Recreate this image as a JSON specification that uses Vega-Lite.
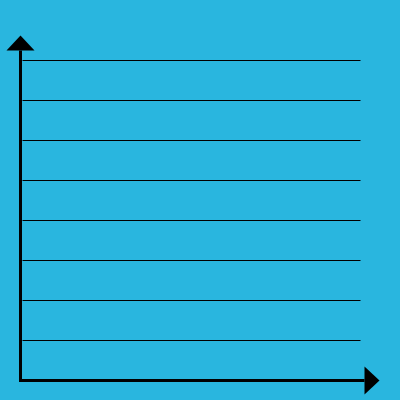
{
  "$schema": "https://vega.github.io/schema/vega-lite/v6.json",
  "autosize": {"type": "fit", "contains": "padding"},
  "width": 400,
  "height": 400,
  "padding": 0,
  "background": "#29B6DF",
  "config": {"view": {"stroke": null}},
  "datasets": {
    "grid": [
      {"level": 1, "start": 0.05, "end": 8.5},
      {"level": 2, "start": 0.05, "end": 8.5},
      {"level": 3, "start": 0.05, "end": 8.5},
      {"level": 4, "start": 0.05, "end": 8.5},
      {"level": 5, "start": 0.05, "end": 8.5},
      {"level": 6, "start": 0.05, "end": 8.5},
      {"level": 7, "start": 0.05, "end": 8.5},
      {"level": 8, "start": 0.05, "end": 8.5}
    ],
    "axes": [
      {"axis": "x", "x": -0.0375, "x2": 8.6, "y": 0, "y2": 0},
      {"axis": "y", "x": 0, "x2": 0, "y": -0.0375, "y2": 8.25}
    ],
    "heads": [
      {"axis": "x", "x": 8.7875, "y": 0},
      {"axis": "y", "x": 0, "y": 8.4375}
    ]
  },
  "layer": [
    {
      "data": {"name": "grid"},
      "mark": {"type": "rule", "color": "black", "strokeWidth": 1},
      "encoding": {
        "x": {"field": "start", "type": "quantitative", "scale": {"domain": [-0.5125, 9.4875], "nice": false, "zero": false}, "axis": null},
        "x2": {"field": "end"},
        "y": {"field": "level", "type": "quantitative", "scale": {"domain": [-0.4875, 9.5125], "nice": false, "zero": false}, "axis": null}
      }
    },
    {
      "data": {"name": "axes"},
      "mark": {"type": "rule", "color": "black", "strokeWidth": 3},
      "encoding": {
        "x": {"field": "x", "type": "quantitative"},
        "x2": {"field": "x2"},
        "y": {"field": "y", "type": "quantitative"},
        "y2": {"field": "y2"}
      }
    },
    {
      "data": {"name": "heads"},
      "transform": [{"filter": "datum.axis == 'x'"}],
      "mark": {"type": "point", "shape": "M0.536,0L-0.536,-1L-0.536,1Z", "size": 784, "filled": true, "color": "black", "opacity": 1, "strokeWidth": 0},
      "encoding": {
        "x": {"field": "x", "type": "quantitative"},
        "y": {"field": "y", "type": "quantitative"}
      }
    },
    {
      "data": {"name": "heads"},
      "transform": [{"filter": "datum.axis == 'y'"}],
      "mark": {"type": "point", "shape": "M0,-0.536L1,0.536L-1,0.536Z", "size": 784, "filled": true, "color": "black", "opacity": 1, "strokeWidth": 0},
      "encoding": {
        "x": {"field": "x", "type": "quantitative"},
        "y": {"field": "y", "type": "quantitative"}
      }
    }
  ]
}
